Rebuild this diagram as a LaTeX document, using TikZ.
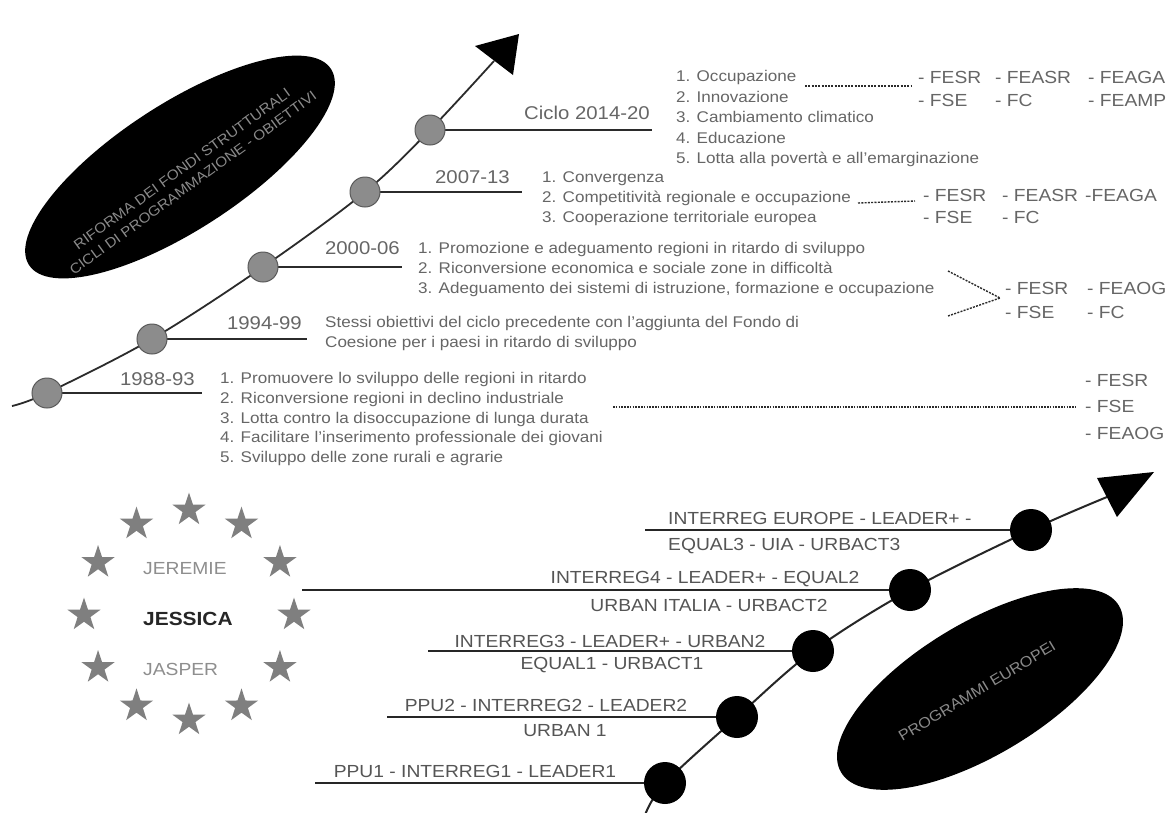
\documentclass[tikz,border=0pt]{standalone}
\usepackage{fontspec}
\setmainfont{Liberation Sans}[FakeStretch=1.1]
\usetikzlibrary{shapes.geometric}
\definecolor{tg}{HTML}{666666}
\definecolor{lc}{HTML}{2B2B2B}
\definecolor{dg}{HTML}{8C8C8C}
\definecolor{db}{HTML}{5A5A5A}
\definecolor{sg}{HTML}{7F7F7F}
\definecolor{eg}{HTML}{8A8A8A}
\definecolor{pg}{HTML}{555555}
\definecolor{lg}{HTML}{8E8E8E}
\tikzset{
 lst/.style={inner sep=0, anchor=base west, text=tg, font=\fontsize{15.5}{18}\selectfont},
 yr/.style={inner sep=0, anchor=base east, text=tg, font=\fontsize{18.5}{22}\selectfont},
 fund/.style={inner sep=0, anchor=base west, text=tg, font=\fontsize{17.5}{21}\selectfont},
 prog/.style={inner sep=0, anchor=base, text=pg, font=\fontsize{17.5}{21}\selectfont},
 progw/.style={prog, anchor=base west},
 tl/.style={line width=1.8pt, draw=lc},
 bl/.style={line width=2pt, draw=black!85},
 tdot/.style={circle, fill=dg, draw=db, line width=1pt, minimum size=30pt, inner sep=0},
 bdot/.style={circle, fill=black, minimum size=42pt, inner sep=0},
 dsh/.style={line width=1.4pt, draw=lc, dash pattern=on 2pt off 1.3pt},
 eustar/.style={star, star points=5, star point ratio=2.6, fill=sg, minimum size=35pt, inner sep=0},
 ell/.style={ellipse, fill=black, inner sep=0},
 elltxt/.style={text=eg, inner sep=0},
 slab/.style={inner sep=0, anchor=base west, text=lg, font=\fontsize{17.5}{21}\selectfont},
}
\begin{document}
\begin{tikzpicture}[x=1pt,y=-1pt]
\fill[white] (0,0) rectangle (1171,812);
\useasboundingbox (0,0) rectangle (1171,812);

% ellipses
\node[ell, minimum width=360pt, minimum height=126pt, rotate=33] (ea) at (180,167) {};
\node[elltxt, rotate=36, font=\fontsize{14}{16}\selectfont] (eat1) at (182,169) {RIFORMA DEI FONDI STRUTTURALI};
\node[elltxt, rotate=36, font=\fontsize{14}{16}\selectfont] (eat2) at (193,183) {CICLI DI PROGRAMMAZIONE - OBIETTIVI};
\node[ell, minimum width=324pt, minimum height=132pt, rotate=31] (eb) at (980,689) {};
\node[elltxt, rotate=31, font=\fontsize{14.8}{16}\selectfont] (ebt) at (977,691) {PROGRAMMI EUROPEI};

% top timeline
\coordinate (ts) at (12,406);
\coordinate (t1) at (47,393);
\coordinate (t2) at (152,339);
\coordinate (t3) at (263,267);
\coordinate (t4) at (365,192);
\coordinate (t5) at (430,130);
\coordinate (ta) at (494,61);
\coordinate (taL) at (475,46);
\coordinate (taT) at (519,34);
\coordinate (taR) at (513,75);
\draw[tl] plot[smooth, tension=0.55] coordinates {(ts) (t1) (t2) (t3) (t4) (t5) (ta)};
\fill[black] (taL) -- (taT) -- (taR) -- cycle;
\coordinate (t1e) at (202,393);
\coordinate (t2e) at (307,339);
\coordinate (t3e) at (402,267);
\coordinate (t4e) at (522,192);
\coordinate (t5e) at (652,130);
\foreach \i in {1,...,5} \draw[tl] (t\i) -- (t\i e);
\foreach \i in {1,...,5} \node[tdot] (c\i) at (t\i) {};

% year labels
\node[yr] (y1) at (195,385.6) {1988-93};
\node[yr] (y2) at (302,329.6) {1994-99};
\node[yr] (y3) at (400,254.6) {2000-06};
\node[yr] (y4) at (510,183.6) {2007-13};
\node[yr] (y5) at (650,119.6) {Ciclo 2014-20};

% 2014-20 list
\node[lst] (l51) at (676,81.5) {1. Occupazione};
\node[lst] (l52) at (676,102.5) {2. Innovazione};
\node[lst] (l53) at (676,122.5) {3. Cambiamento climatico};
\node[lst] (l54) at (676,143.5) {4. Educazione};
\node[lst] (l55) at (676,163.5) {5. Lotta alla povertà e all'emarginazione};
% 2007-13 list
\node[lst] (l41) at (542,182.5) {1. Convergenza};
\node[lst] (l42) at (542,202.5) {2. Competitività regionale e occupazione};
\node[lst] (l43) at (542,222.5) {3. Cooperazione territoriale europea};
% 2000-06 list
\node[lst] (l31) at (418,253.5) {1. Promozione e adeguamento regioni in ritardo di sviluppo};
\node[lst] (l32) at (418,273.5) {2. Riconversione economica e sociale zone in difficoltà};
\node[lst] (l33) at (418,293.5) {3. Adeguamento dei sistemi di istruzione, formazione e occupazione};
% 1994-99
\node[lst] (l21) at (325,327.5) {Stessi obiettivi del ciclo precedente con l'aggiunta del Fondo di};
\node[lst] (l22) at (325,347.5) {Coesione per i paesi in ritardo di sviluppo};
% 1988-93
\node[lst] (l11) at (220,383.5) {1. Promuovere lo sviluppo delle regioni in ritardo};
\node[lst] (l12) at (220,403.5) {2. Riconversione regioni in declino industriale};
\node[lst] (l13) at (220,423.5) {3. Lotta contro la disoccupazione di lunga durata};
\node[lst] (l14) at (220,442.5) {4. Facilitare l'inserimento professionale dei giovani};
\node[lst] (l15) at (220,462.5) {5. Sviluppo delle zone rurali e agrarie};

% funds
\node[fund] (f5a) at (918,83.3) {- FESR};
\node[fund] (f5b) at (995,83.3) {- FEASR};
\node[fund] (f5c) at (1088,83.3) {- FEAGA};
\node[fund] (f5d) at (918,106.3) {- FSE};
\node[fund] (f5e) at (995,106.3) {- FC};
\node[fund] (f5f) at (1088,106.3) {- FEAMP};
\node[fund] (f4a) at (923,201.3) {- FESR};
\node[fund] (f4b) at (1002,201.3) {- FEASR};
\node[fund] (f4c) at (1085,201.3) {-FEAGA};
\node[fund] (f4d) at (923,223.3) {- FSE};
\node[fund] (f4e) at (1002,223.3) {- FC};
\node[fund] (f3a) at (1005,294.3) {- FESR};
\node[fund] (f3b) at (1087,294.3) {- FEAOG};
\node[fund] (f3c) at (1005,318.3) {- FSE};
\node[fund] (f3d) at (1087,318.3) {- FC};
\node[fund] (f1a) at (1085,386.3) {- FESR};
\node[fund] (f1b) at (1085,412.3) {- FSE};
\node[fund] (f1c) at (1085,439.3) {- FEAOG};

% dashed connectors
\coordinate (d5s) at (805,86); \coordinate (d5e) at (912,86);
\coordinate (d4s) at (858,203); \coordinate (d4e) at (915,201);
\coordinate (d3a) at (948,271); \coordinate (d3m) at (1000,298); \coordinate (d3b) at (948,316);
\coordinate (d1s) at (613,407); \coordinate (d1e) at (1076,407);
\draw[dsh] (d5s) -- (d5e);
\draw[dsh] (d4s) -- (d4e);
\draw[dsh] (d3a) -- (d3m);
\draw[dsh] (d3b) -- (d3m);
\draw[dsh, dash pattern=on 1.6pt off 1.2pt] (d1s) -- (d1e);

% bottom timeline
\coordinate (bs) at (645,815);
\coordinate (b5) at (665,783);
\coordinate (b4) at (737,717);
\coordinate (b3) at (813,651);
\coordinate (b2) at (910,590);
\coordinate (b1) at (1031,530);
\coordinate (ba) at (1107,497);
\coordinate (baL) at (1097,478);
\coordinate (baT) at (1154,472);
\coordinate (baR) at (1117,517);
\draw[bl] plot[smooth, tension=0.55] coordinates {(bs) (b5) (b4) (b3) (b2) (b1) (ba)};
\fill[black] (baL) -- (baT) -- (baR) -- cycle;
\coordinate (b1e) at (645,530);
\coordinate (b2e) at (302,590);
\coordinate (b3e) at (428,651);
\coordinate (b4e) at (387,717);
\coordinate (b5e) at (315,783);
\foreach \i in {1,...,5} \draw[bl] (b\i) -- (b\i e);
\foreach \i in {1,...,5} \node[bdot] (k\i) at (b\i) {};

% programme labels
\node[progw] (p1a) at (668,524.3) {INTERREG EUROPE - LEADER+ -};
\node[progw] (p1b) at (668,550.3) {EQUAL3 - UIA - URBACT3};
\node[prog] (p2a) at (705,583.3) {INTERREG4 - LEADER+ - EQUAL2};
\node[prog] (p2b) at (709,611.3) {URBAN ITALIA - URBACT2};
\node[prog] (p3a) at (610,647.3) {INTERREG3 - LEADER+ - URBAN2};
\node[prog] (p3b) at (612,669.3) {EQUAL1 - URBACT1};
\node[prog] (p4a) at (546,711.3) {PPU2 - INTERREG2 - LEADER2};
\node[prog] (p4b) at (565,736.3) {URBAN 1};
\node[prog] (p5a) at (475,777.3) {PPU1 - INTERREG1 - LEADER1};

% stars
\foreach \a in {0,30,...,330}
  \node[eustar] (st\a) at ({189+105*cos(\a)},{615+105*sin(\a)}) {};
\node[slab] (jer) at (143,574.3) {JEREMIE};
\node[inner sep=0, anchor=base west, text=black!85, font=\bfseries\fontsize{19}{22}\selectfont] (jes) at (143,625.8) {JESSICA};
\node[slab] (jas) at (143,675.3) {JASPER};
\end{tikzpicture}
\end{document}
